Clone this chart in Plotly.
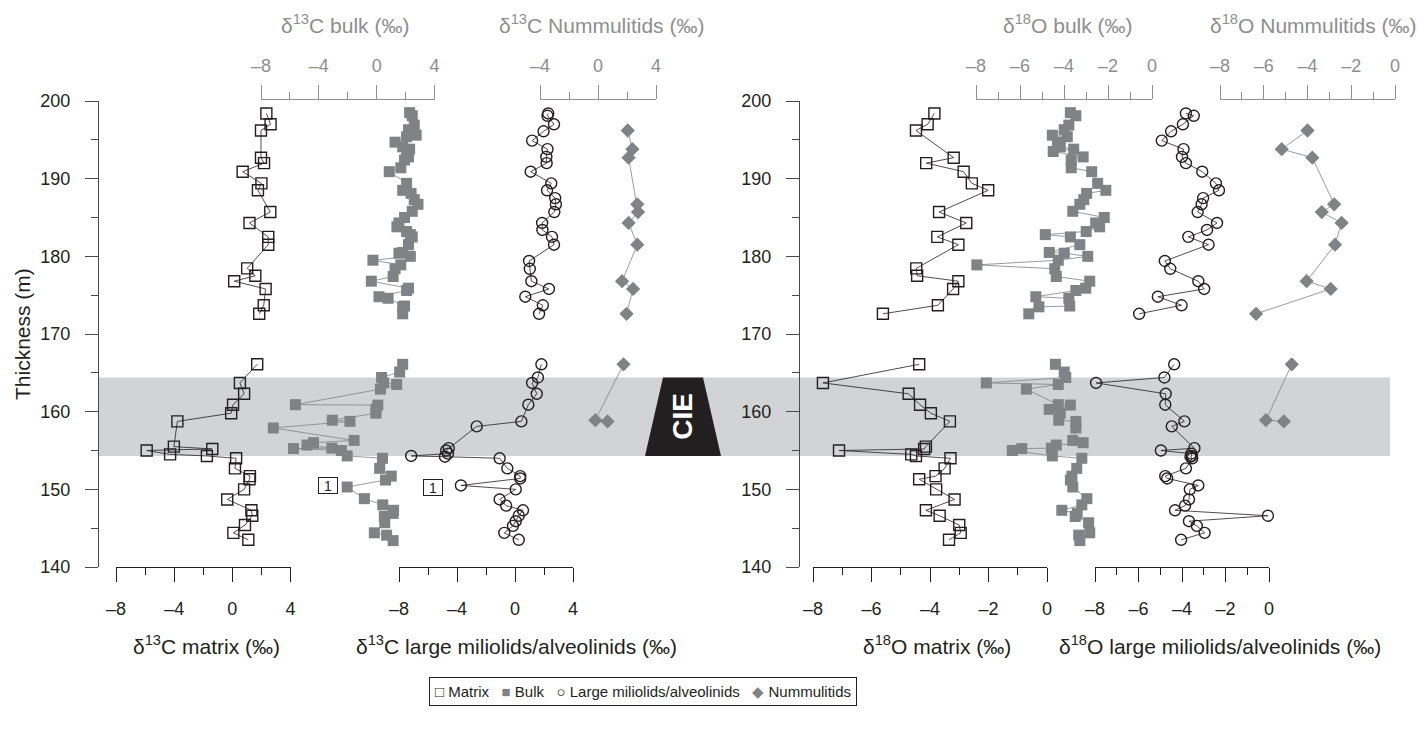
import plotly.graph_objects as go

W, H = 1419, 733

# ---------------- data ----------------
# Matrix samples
mx_depth_up = [198.4, 197.0, 196.2, 192.7, 192.0, 190.9, 189.4, 188.5, 185.7, 184.3,
               182.5, 181.5, 178.45, 177.5, 176.8, 175.8, 173.7, 172.6]
mx_d13c_up = [2.34, 2.63, 1.97, 1.97, 2.18, 0.71, 2.0, 1.76, 2.61, 1.18,
              2.47, 2.47, 1.02, 1.58, 0.13, 2.29, 2.16, 1.85]
mx_d18o_up = [-3.85, -4.08, -4.48, -3.19, -4.13, -2.85, -2.57, -2.01, -3.69, -2.76,
              -3.75, -3.03, -4.47, -4.44, -3.03, -3.21, -3.73, -5.61]
mx_depth_lo = [166.1, 163.7, 162.3, 160.9, 159.8, 158.75, 155.5, 155.2, 155.0, 154.5,
               154.3, 154.0, 152.7, 151.7, 151.3, 150.0, 148.7, 147.3, 146.6, 145.4,
               144.4, 143.5]
mx_d13c_lo = [1.71, 0.52, 0.81, 0.05, -0.08, -3.78, -4.02, -1.38, -5.89, -4.28,
              -1.75, 0.26, 0.18, 1.21, 1.18, 0.81, -0.35, 1.31, 1.37, 0.87,
              0.07, 1.10]
mx_d18o_lo = [-4.37, -7.66, -4.73, -4.34, -3.97, -3.32, -4.14, -4.2, -7.11, -4.64,
              -4.48, -3.30, -3.50, -3.81, -4.37, -3.79, -3.16, -4.14, -3.67, -3.0,
              -2.95, -3.35]

# Bulk samples
bk_depth_up = [198.5, 198.1, 196.9, 196.3, 195.6, 195.4, 194.7, 194.1, 193.8, 193.5,
               192.8, 192.4, 191.4, 190.9, 189.4, 188.5, 188.1, 187.3, 186.7, 185.8,
               185.0, 184.3, 183.8, 183.2, 182.8, 182.5, 181.5, 180.5, 180.4, 180.0,
               179.5, 178.9, 178.4, 177.4, 176.8, 175.9, 175.6, 174.8, 174.6, 173.6,
               173.5, 172.6]
bk_d13c_up = [2.28, 2.46, 2.60, 2.20, 2.73, 2.07, 1.27, 1.80, 2.28, 2.07,
              2.20, 1.93, 1.67, 0.87, 2.07, 1.80, 2.38, 2.60, 2.86, 2.46,
              1.93, 1.54, 1.40, 2.07, 2.33, 2.46, 2.20, 1.80, 1.54, 2.33,
              -0.26, 1.67, 1.27, 1.14, -0.37, 2.20, 2.07, 0.16, 0.79, 1.93,
              1.80, 1.80]
bk_d18o_up = [-3.71, -3.46, -3.78, -3.99, -4.53, -3.85, -4.30, -4.17, -3.56, -4.49,
              -3.13, -3.67, -3.67, -2.74, -2.47, -2.10, -2.97, -3.10, -3.28, -3.60,
              -2.17, -2.56, -2.38, -2.99, -4.85, -3.71, -3.28, -4.67, -3.99, -2.92,
              -4.26, -7.96, -4.42, -4.35, -2.83, -3.01, -3.46, -5.28, -3.78, -3.74,
              -5.14, -5.60]
bk_depth_lo = [166.1, 165.1, 164.4, 163.7, 163.5, 162.9, 160.9, 160.85, 160.3, 159.8,
               158.9, 158.75, 157.9, 156.3, 156.0, 155.7, 155.3, 155.25, 155.0, 154.3,
               154.0, 152.7, 151.7, 151.2, 150.3, 148.8, 148.0, 147.3, 146.9, 146.5,
               145.7, 144.4, 144.1, 143.4]
bk_d13c_lo = [1.80, 1.59, 0.34, 0.48, 1.38, 0.26, -5.62, 0.08, -0.05, -0.05,
              -3.07, -1.85, -7.15, -1.56, -4.37, -4.82, -3.10, -5.75, -2.44, -2.04,
              0.40, 0.21, 1.01, 0.61, -2.04, -0.85, 0.42, 1.17, 1.14, 0.53,
              0.56, -0.16, 0.69, 1.14]
bk_d18o_lo = [-4.39, -3.99, -3.92, -7.53, -4.26, -5.71, -4.26, -3.71, -4.67, -4.17,
              -4.24, -3.46, -3.46, -3.60, -3.13, -4.35, -4.57, -5.92, -6.35, -4.53,
              -3.19, -3.42, -3.64, -3.71, -3.60, -2.96, -3.19, -4.10, -3.40, -3.49,
              -2.88, -2.83, -3.33, -3.28]

# Large miliolids / alveolinids
ml_depth_up = [198.4, 198.1, 197.0, 196.1, 194.9, 193.8, 192.8, 192.0, 190.9, 189.4,
               188.5, 187.5, 186.7, 185.7, 184.3, 183.4, 182.5, 181.5, 179.4, 178.4,
               176.8, 175.8, 174.8, 173.7, 172.6]
ml_d13c_up = [2.29, 2.24, 2.69, 1.97, 1.18, 2.24, 2.16, 2.18, 1.08, 2.50,
              2.21, 2.77, 2.82, 2.71, 1.87, 1.89, 2.55, 2.69, 0.97, 1.02,
              1.13, 2.34, 0.71, 1.92, 1.66]
ml_d18o_up = [-3.82, -3.46, -3.96, -4.50, -4.93, -3.93, -4.0, -3.82, -3.07, -2.44,
              -2.30, -3.03, -3.10, -3.28, -2.39, -2.85, -3.71, -2.78, -4.79, -4.54,
              -3.25, -2.98, -5.11, -4.02, -5.97]
ml_depth_lo = [166.1, 164.4, 163.7, 162.3, 160.9, 158.75, 158.1, 155.3, 155.0, 154.6,
               154.3, 154.2, 154.0, 152.7, 151.7, 151.4, 150.5, 150.0, 148.7, 147.9,
               147.3, 146.6, 145.9, 145.3, 144.4, 143.5]
ml_d13c_lo = [1.82, 1.58, 1.18, 1.50, 0.92, 0.44, -2.64, -4.57, -4.75, -4.62,
              -7.16, -4.83, -1.06, -0.53, 0.36, 0.36, -3.73, 0.05, -1.06, -0.61,
              0.55, 0.26, 0.05, -0.14, -0.74, 0.26]
ml_d18o_lo = [-4.36, -4.81, -7.95, -4.75, -4.77, -3.89, -4.47, -3.43, -4.97, -3.57,
              -3.55, -3.61, -3.53, -3.82, -4.77, -4.68, -3.25, -3.64, -3.68, -3.86,
              -4.32, -0.05, -3.68, -3.32, -2.96, -4.04]

# Nummulitids
nm_depth_up = [196.2, 193.8, 192.7, 186.7, 185.7, 184.3, 181.5, 176.8, 175.8, 172.6]
nm_d13c_up = [2.05, 2.37, 2.11, 2.71, 2.76, 2.11, 2.71, 1.66, 2.42, 1.97]
nm_d18o_up = [-4.0, -5.18, -3.78, -2.78, -3.35, -2.44, -2.74, -4.04, -2.94, -6.35]
nm_depth_lo = [166.1, 158.9, 158.75]
nm_d13c_lo = [1.76, -0.18, 0.66]
nm_d18o_lo = [-4.72, -5.90, -5.08]

# CIE interval (m)
cie_bottom, cie_top = 154.3, 164.4

# axis ticks
y_ticks = [140, 150, 160, 170, 180, 190, 200]
y_minor = [145, 155, 165, 175, 185, 195]
c_major = [-8, -4, 0, 4]
c_minor = [-6, -2, 2]
cn_major = [-4, 0, 4]
cn_minor = [-2, 2]
o_major = [-8, -6, -4, -2, 0]
o_minor = [-7, -5, -3, -1]

# ---------------- styling ----------------
BLACK = '#231f20'
GREY = '#808285'
AXGREY = '#8e8e8e'
FONT = 'Liberation Sans Narrow, Arial Narrow, Liberation Sans, Arial, sans-serif'


def px(x):
    return x / W


def py(y):
    return 1 - y / H


def lab(v):
    return ('\u2013' + str(abs(v))) if v < 0 else str(v)


fig = go.Figure()


def series(xa, ya, xu, du, xl, dl, symbol, color, size, fill):
    x = list(xu) + [None] + list(xl)
    y = list(du) + [None] + list(dl)
    fig.add_trace(go.Scatter(
        x=x, y=y, xaxis=xa, yaxis=ya, mode='lines+markers', connectgaps=False,
        line=dict(color=color, width=0.8),
        marker=dict(symbol=symbol, size=size, color=color,
                    line=dict(color=color, width=1.4 if not fill else 0)),
        showlegend=False, cliponaxis=False, hoverinfo='x+y'))


# carbon panel
series('x2', 'y', bk_d13c_up, bk_depth_up, bk_d13c_lo, bk_depth_lo, 'square', GREY, 11, True)
series('x4', 'y', nm_d13c_up, nm_depth_up, nm_d13c_lo, nm_depth_lo, 'diamond', GREY, 11, True)
series('x', 'y', mx_d13c_up, mx_depth_up, mx_d13c_lo, mx_depth_lo, 'square-open', BLACK, 11, False)
series('x3', 'y', ml_d13c_up, ml_depth_up, ml_d13c_lo, ml_depth_lo, 'circle-open', BLACK, 11, False)
# oxygen panel
series('x6', 'y2', bk_d18o_up, bk_depth_up, bk_d18o_lo, bk_depth_lo, 'square', GREY, 11, True)
series('x8', 'y2', nm_d18o_up, nm_depth_up, nm_d18o_lo, nm_depth_lo, 'diamond', GREY, 11, True)
series('x5', 'y2', mx_d18o_up, mx_depth_up, mx_d18o_lo, mx_depth_lo, 'square-open', BLACK, 11, False)
series('x7', 'y2', ml_d18o_up, ml_depth_up, ml_d18o_lo, ml_depth_lo, 'circle-open', BLACK, 11, False)


def xaxis(x0, x1, major, minor, side, color):
    pos = py(567) if side == 'bottom' else py(99)
    return dict(domain=[px(x0), px(x1)], range=[major[0], major[-1]], anchor='free',
                position=pos, side=side, showline=True, linecolor=color, linewidth=1,
                ticks='outside', ticklen=14, tickwidth=1, tickcolor=color,
                tickvals=major, ticktext=[lab(v) for v in major],
                tickfont=dict(size=18, color=color, family=FONT),
                ticklabelstandoff=11 if side == 'bottom' else 6,
                minor=dict(tickvals=minor, ticklen=7, tickwidth=1, tickcolor=color,
                           ticks='outside', showgrid=False),
                automargin=False,
                showgrid=False, zeroline=False, fixedrange=True)


def yaxis(xpos):
    return dict(domain=[py(567), py(101)], range=[140, 200], anchor='free', position=px(xpos),
                side='left', showline=True, linecolor='#4a4a4a', linewidth=1,
                ticks='outside', ticklen=13, tickwidth=1, tickcolor='#4a4a4a',
                tickvals=y_ticks, ticktext=[str(v) for v in y_ticks],
                tickfont=dict(size=18, color=BLACK, family=FONT), ticklabelstandoff=11,
                minor=dict(tickvals=y_minor, ticklen=7, tickwidth=1, tickcolor='#4a4a4a',
                           ticks='outside', showgrid=False),
                automargin=False,
                showgrid=False, zeroline=False, fixedrange=True)


fig.update_layout(
    width=W, height=H, margin=dict(l=0, r=0, t=0, b=0, pad=0, autoexpand=False),
    paper_bgcolor='white', plot_bgcolor='rgba(0,0,0,0)',
    font=dict(family=FONT, color=BLACK),
    showlegend=False,
    yaxis=yaxis(98),
    yaxis2=yaxis(799),
    xaxis=xaxis(116, 290.5, c_major, c_minor, 'bottom', BLACK),
    xaxis2=xaxis(261, 434.5, c_major, c_minor, 'top', AXGREY),
    xaxis3=xaxis(399, 573, c_major, c_minor, 'bottom', BLACK),
    xaxis4=xaxis(540, 656, cn_major, cn_minor, 'top', AXGREY),
    xaxis5=xaxis(813, 1047, o_major, o_minor, 'bottom', BLACK),
    xaxis6=xaxis(976, 1152, o_major, o_minor, 'top', AXGREY),
    xaxis7=xaxis(1095, 1269, o_major, o_minor, 'bottom', BLACK),
    xaxis8=xaxis(1220, 1395, o_major, o_minor, 'top', AXGREY),
)

# CIE band and trapezoid
fig.add_shape(type='rect', xref='paper', yref='y', x0=px(98), x1=px(1390),
              y0=cie_bottom, y1=cie_top, fillcolor='#d1d3d4', line=dict(width=0), layer='below')
fig.add_shape(type='path', xref='paper', yref='y',
              path=f'M {px(663)},{cie_top} L {px(703)},{cie_top} L {px(721)},{cie_bottom} '
                   f'L {px(645)},{cie_bottom} Z',
              fillcolor=BLACK, line=dict(width=0), layer='below')
fig.add_annotation(xref='paper', yref='y', x=px(683), y=(cie_top + cie_bottom) / 2,
                   text='<b>CIE</b>', textangle=-90, showarrow=False,
                   xanchor='center', yanchor='middle',
                   font=dict(size=28, color='white', family='Liberation Sans, Arial, sans-serif'))


def note(text, x, y, color, size=21, angle=0):
    fig.add_annotation(xref='paper', yref='paper', x=px(x), y=py(y), text=text,
                       showarrow=False, textangle=angle, xanchor='center', yanchor='middle',
                       font=dict(size=size, color=color, family=FONT))


note('\u03b4<sup>13</sup>C bulk (\u2030)', 345, 24, AXGREY)
note('\u03b4<sup>13</sup>C Nummulitids (\u2030)', 601, 24, AXGREY)
note('\u03b4<sup>18</sup>O bulk (\u2030)', 1068, 24, AXGREY)
note('\u03b4<sup>18</sup>O Nummulitids (\u2030)', 1313, 24, AXGREY)
note('\u03b4<sup>13</sup>C matrix (\u2030)', 207, 645, BLACK)
note('\u03b4<sup>13</sup>C large miliolids/alveolinids (\u2030)', 516, 645, BLACK)
note('\u03b4<sup>18</sup>O matrix (\u2030)', 937, 645, BLACK)
note('\u03b4<sup>18</sup>O large miliolids/alveolinids (\u2030)', 1220, 645, BLACK)
note('Thickness (m)', 22, 334, BLACK, size=21, angle=-90)

# "1" boxes
for bx, by in [(328, 485), (433, 487)]:
    fig.add_annotation(xref='paper', yref='paper', x=px(bx), y=py(by), text='1',
                       showarrow=False, bgcolor='white', bordercolor=BLACK, borderwidth=1,
                       borderpad=1, width=16, height=13, xanchor='center', yanchor='middle',
                       font=dict(size=14, color=BLACK, family=FONT))

# legend box
legend_text = ('\u25a1 Matrix &nbsp; <span style="color:#808285">\u25a0</span> Bulk &nbsp; '
               '\u25cb Large miliolids/alveolinids &nbsp; '
               '<span style="color:#808285">\u25c6</span> Nummulitids')
fig.add_annotation(xref='paper', yref='paper', x=px(643), y=py(691), text=legend_text,
                   showarrow=False, bordercolor=BLACK, borderwidth=1, borderpad=5,
                   xanchor='center', yanchor='middle',
                   bgcolor='white', font=dict(size=15, color=BLACK, family=FONT))

# the page body gets no default margin, so the 1419x733 figure fills the window exactly
fig.write_html('out.html', config={'displayModeBar': False, 'staticPlot': True},
               post_script="document.body.style.margin='0px';document.body.style.overflow='hidden';")
